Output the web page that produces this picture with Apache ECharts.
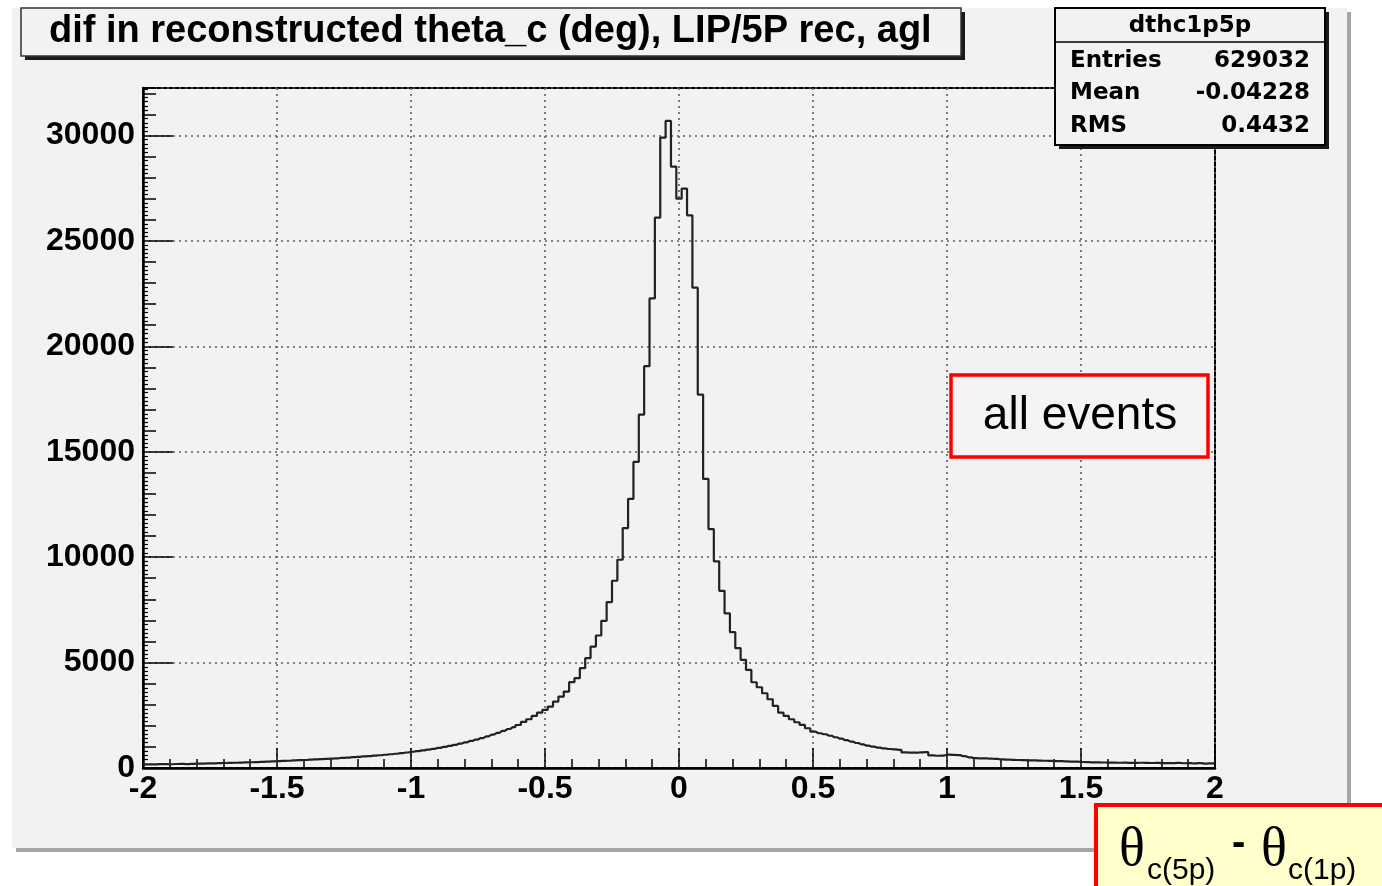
<!DOCTYPE html>
<html>
<head>
<meta charset="utf-8">
<script src="https://cdn.jsdelivr.net/npm/echarts@6/dist/echarts.min.js"></script>
<style>
  html, body { margin: 0; padding: 0; background: #ffffff; }
  #chart { width: 1382px; height: 886px; }
</style>
</head>
<body>
<div id="chart"></div>
<script>
// Histogram: difference in reconstructed theta_c (deg), LIP/5P rec, agl
const histName = 'dthc1p5p';
const titleText = 'dif in reconstructed theta_c (deg), LIP/5P rec, agl';
const binStart = -2.00;   // centre of first bin
const binWidth = 0.02;
const counts = [
  170, 175, 168, 180, 185, 178, 190, 195, 188, 200,          // -2.00 .. -1.82
  205, 212, 215, 222, 228, 236, 241, 250, 256, 266,          // -1.80 .. -1.62
  272, 281, 290, 301, 312, 324, 336, 345, 358, 371,          // -1.60 .. -1.42
  380, 393, 406, 418, 431, 446, 461, 478, 494, 513,          // -1.40 .. -1.22
  529, 549, 566, 586, 604, 629, 651, 676, 702, 734,          // -1.20 .. -1.02
  770, 800, 835, 870, 910, 955, 1000, 1050, 1100, 1160,      // -1.00 .. -0.82
  1220, 1285, 1350, 1420, 1500, 1580, 1670, 1760, 1850, 1940, // -0.80 .. -0.62
  2040, 2184, 2312, 2470, 2626, 2754, 2911, 3148, 3386, 3623, // -0.60 .. -0.42
  4070, 4260, 4734, 5210, 5760, 6283, 6980, 7867, 8880, 9877, // -0.40 .. -0.22
  11380, 12760, 14515, 16760, 19055, 22270, 26100, 29900, 30690, 28520, // -0.20 .. -0.02
  27000, 27480, 26210, 22780, 17710, 13710, 11330, 9800, 8405, 7330,    //  0.00 ..  0.18
  6440, 5683, 5128, 4653, 4068, 3830, 3545, 3260, 2944, 2626, //  0.20 ..  0.38
  2470, 2312, 2170, 2042, 1885, 1724, 1648, 1600, 1530, 1458, //  0.40 ..  0.58
  1390, 1320, 1249, 1185, 1120, 1060, 1010, 965, 930, 900,    //  0.60 ..  0.78
  880, 860, 740, 730, 725, 745, 750, 600, 580, 590,          //  0.80 ..  0.98
  630, 620, 610, 560, 505, 470, 460, 452, 440, 430,          //  1.00 ..  1.18
  405, 400, 390, 380, 372, 365, 358, 350, 345, 338,          //  1.20 ..  1.38
  330, 322, 315, 305, 298, 285, 275, 270, 268, 262,          //  1.40 ..  1.58
  258, 255, 250, 252, 246, 244, 250, 240, 238, 242,          //  1.60 ..  1.78
  230, 235, 228, 240, 225, 232, 215, 228, 210, 220,          //  1.80 ..  1.98
  205                                                        //  2.00
];
const statsRows = [
  ['Entries', '629032'],
  ['Mean', '-0.04228'],
  ['RMS', '0.4432']
];
const xRange = [-2, 2];
const yRange = [0, 32250];
const boxLabel = 'all events';

const points = counts.map((c, i) => [+(binStart + i * binWidth).toFixed(2), c]);

const AX = 'Liberation Sans';
const dotted = { color: '#5e5e5e', width: 1.6, type: [2, 4] };

const chart = echarts.init(document.getElementById('chart'), null, { renderer: 'canvas' });

const graphics = [
  // canvas pad with its drop shadow
  { type: 'rect', z: -20, shape: { x: 16, y: 12, width: 1335, height: 840 }, style: { fill: '#a6a6a6' } },
  { type: 'rect', z: -19, shape: { x: 12, y: 8, width: 1335, height: 840 }, style: { fill: '#f2f2f2' } },
  // title box
  { type: 'rect', z: 50, shape: { x: 25, y: 12, width: 940, height: 48 }, style: { fill: '#1a1a1a' } },
  { type: 'rect', z: 51, shape: { x: 21, y: 8, width: 940, height: 48 }, style: { fill: '#f2f2f2', stroke: '#333', lineWidth: 1.5 } },
  { type: 'text', z: 52, style: { x: 49, y: 32, text: titleText, font: 'bold 38px "Liberation Sans"', fill: '#000', textVerticalAlign: 'middle' } },
  // stats box
  { type: 'rect', z: 50, shape: { x: 1059, y: 12, width: 270, height: 137 }, style: { fill: '#1a1a1a' } },
  { type: 'rect', z: 51, shape: { x: 1055, y: 8, width: 270, height: 137 }, style: { fill: '#f2f2f2', stroke: '#000', lineWidth: 2 } },
  { type: 'line', z: 52, shape: { x1: 1055, y1: 42, x2: 1325, y2: 42 }, style: { stroke: '#000', lineWidth: 1.5 } },
  { type: 'text', z: 52, style: { x: 1190, y: 26, text: histName, font: 'bold 23px "DejaVu Sans"', fill: '#000', textAlign: 'center', textVerticalAlign: 'middle' } },
  // label box
  { type: 'rect', z: 51, shape: { x: 951, y: 375, width: 257, height: 82 }, style: { fill: '#f4f4f4', stroke: '#ff0000', lineWidth: 3.5 } },
  { type: 'text', z: 52, style: { x: 1080, y: 416, text: boxLabel, font: '46px "Liberation Sans"', fill: '#000', textAlign: 'center', textVerticalAlign: 'middle' } },
  // axis quantity box
  { type: 'rect', z: 51, shape: { x: 1096, y: 805, width: 300, height: 100 }, style: { fill: '#ffffcc', stroke: '#ff0000', lineWidth: 4 } },
  { type: 'text', z: 52, style: { x: 1119, y: 878, text: 'θ', font: '54px "Liberation Serif"', fill: '#000', textVerticalAlign: 'bottom' } },
  { type: 'text', z: 52, style: { x: 1147, y: 886, text: 'c(5p)', font: '30px "Liberation Sans"', fill: '#000', textVerticalAlign: 'bottom' } },
  { type: 'text', z: 52, style: { x: 1232, y: 864, text: '-', font: 'bold 40px "Liberation Sans"', fill: '#000', textVerticalAlign: 'bottom' } },
  { type: 'text', z: 52, style: { x: 1261, y: 878, text: 'θ', font: '54px "Liberation Serif"', fill: '#000', textVerticalAlign: 'bottom' } },
  { type: 'text', z: 52, style: { x: 1288, y: 886, text: 'c(1p)', font: '30px "Liberation Sans"', fill: '#000', textVerticalAlign: 'bottom' } }
];
statsRows.forEach((row, i) => {
  const y = 61 + i * 32.5;
  graphics.push({ type: 'text', z: 52, style: { x: 1070, y: y, text: row[0], font: 'bold 23px "DejaVu Sans"', fill: '#000', textVerticalAlign: 'middle' } });
  graphics.push({ type: 'text', z: 52, style: { x: 1310, y: y, text: row[1], font: 'bold 23px "DejaVu Sans"', fill: '#000', textAlign: 'right', textVerticalAlign: 'middle' } });
});

const option = {
  backgroundColor: '#ffffff',
  animation: false,
  grid: { left: 143, top: 88, width: 1072, height: 680, show: true, borderColor: '#000', borderWidth: 2, backgroundColor: 'transparent' },
  xAxis: [
    {
      type: 'value', min: xRange[0], max: xRange[1], interval: 0.5,
      axisLine: { show: true, onZero: false, lineStyle: { color: '#000', width: 2.5 } },
      axisTick: { show: true, inside: true, length: 20, lineStyle: { color: '#000', width: 1.5 } },
      axisLabel: { show: true, margin: 5, color: '#000', fontFamily: AX, fontWeight: 'bold', fontSize: 32, formatter: v => String(v) },
      splitLine: { show: true, lineStyle: dotted }
    },
    {
      type: 'value', min: xRange[0], max: xRange[1], interval: 0.1, position: 'bottom',
      axisLine: { show: false, onZero: false },
      axisTick: { show: true, inside: true, length: 9, lineStyle: { color: '#000', width: 1.5 } },
      axisLabel: { show: false },
      splitLine: { show: false }
    }
  ],
  yAxis: [
    {
      type: 'value', min: yRange[0], max: yRange[1], interval: 5000,
      axisLine: { show: true, onZero: false, lineStyle: { color: '#000', width: 2.5 } },
      axisTick: { show: true, inside: true, length: 30, lineStyle: { color: '#000', width: 1.5 } },
      axisLabel: { show: true, margin: 8, color: '#000', fontFamily: AX, fontWeight: 'bold', fontSize: 32, showMaxLabel: false, formatter: v => String(v) },
      splitLine: { show: true, lineStyle: dotted }
    },
    {
      type: 'value', min: yRange[0], max: yRange[1], interval: 1000, position: 'left',
      axisLine: { show: false, onZero: false },
      axisTick: { show: true, inside: true, length: 13, lineStyle: { color: '#000', width: 1.5 } },
      minorTick: { show: true, splitNumber: 5, length: 5, lineStyle: { color: '#000', width: 1.2 } },
      axisLabel: { show: false },
      splitLine: { show: false }
    }
  ],
  series: [
    {
      type: 'line', xAxisIndex: 0, yAxisIndex: 0, step: 'middle',
      data: points, symbol: 'none', clip: true,
      lineStyle: { color: '#222222', width: 2.2 },
      z: 5
    }
  ],
  graphic: graphics
};
chart.setOption(option);
</script>
</body>
</html>
